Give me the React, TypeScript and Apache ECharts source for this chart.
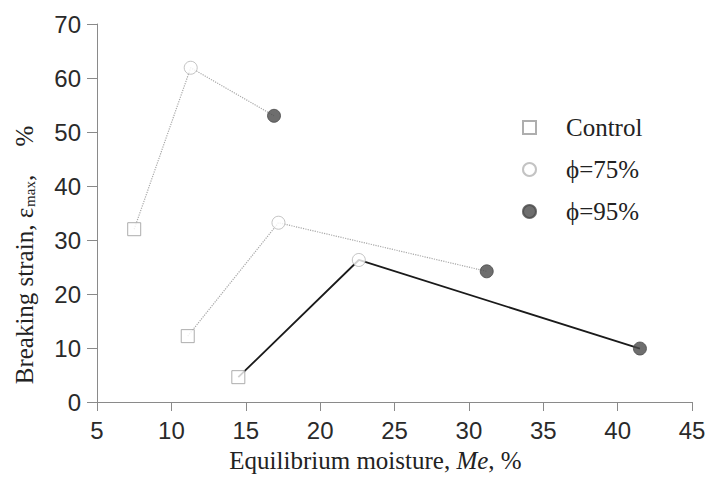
import React, { useEffect, useRef } from "react";
import * as echarts from "echarts";

// Equilibrium moisture (%) and breaking strain (%)
const controlX = [7.5, 11.1, 14.5];
const controlY = [32, 12.2, 4.6];
const rh75X = [11.3, 17.2, 22.6];
const rh75Y = [61.9, 33.2, 26.3];
const rh95X = [16.9, 31.2, 41.5];
const rh95Y = [53, 24.2, 9.9];
const legendNames = ["Control", "\u03d5=75%", "\u03d5=95%"];

const serif = "'Liberation Serif', 'DejaVu Serif', serif";
const sans = "'Liberation Sans', Arial, sans-serif";

export default function App() {
  const ref = useRef<HTMLDivElement>(null);
  useEffect(() => {
    if (!ref.current) return;
    const chart = echarts.init(ref.current, undefined, { renderer: "svg" });
    const pts = (xs: number[], ys: number[]) => xs.map((x, i) => [x, ys[i]]);
    const lineStyles = [
      { color: "#a8a8a8", width: 1.2, type: "dotted" },
      { color: "#a8a8a8", width: 1.2, type: "dotted" },
      { color: "#1a1a1a", width: 1.8, type: "solid" },
    ];
    const lineSeries = [0, 1, 2].map((i) => ({
      type: "line",
      data: [
        [controlX[i], controlY[i]],
        [rh75X[i], rh75Y[i]],
        [rh95X[i], rh95Y[i]],
      ],
      showSymbol: false,
      symbol: "none",
      lineStyle: lineStyles[i],
      silent: true,
      z: 1,
    }));
    const nameStyle = { fontFamily: serif, fontSize: 25, color: "#222" };
    chart.setOption({
      animation: false,
      backgroundColor: "#ffffff",
      grid: { left: 97, right: 17, top: 24, bottom: 83 },
      legend: {
        orient: "vertical",
        left: 522,
        top: 115,
        padding: 0,
        itemGap: 17,
        itemWidth: 13,
        itemHeight: 13,
        data: legendNames,
        textStyle: { fontFamily: serif, fontSize: 25, color: "#222", padding: [0, 0, 0, 25] },
      },
      xAxis: {
        type: "value",
        min: 5,
        max: 45,
        interval: 5,
        name: "{a|Equilibrium moisture, }{i|Me}{z|, %}",
        nameLocation: "middle",
        nameGap: 46,
        nameTextStyle: {
          rich: {
            a: nameStyle,
            i: { ...nameStyle, fontStyle: "italic" },
            z: { ...nameStyle, padding: [0, 38, 0, 0] },
          },
        },
        axisLine: { show: true, lineStyle: { color: "#8a8a8a", width: 1 } },
        axisTick: { show: true, inside: false, length: 9, lineStyle: { color: "#8a8a8a" } },
        axisLabel: { fontFamily: sans, fontSize: 24, color: "#2a2a2a", margin: 16 },
        splitLine: { show: false },
      },
      yAxis: {
        type: "value",
        min: 0,
        max: 70,
        interval: 10,
        name: "{a|Breaking strain, }{e|\u03b5}{s|max}{c|, }{p|%}",
        nameLocation: "middle",
        nameGap: 60,
        nameRotate: 90,
        nameTextStyle: {
          rich: {
            a: nameStyle,
            e: nameStyle,
            s: { fontFamily: serif, fontSize: 15, color: "#222", verticalAlign: "bottom", padding: [10, 0, 0, 1] },
            c: nameStyle,
            p: { ...nameStyle, padding: [0, 84, 0, 22] },
          },
        },
        axisLine: { show: true, lineStyle: { color: "#8a8a8a", width: 1 } },
        axisTick: { show: true, inside: false, length: 10, lineStyle: { color: "#8a8a8a" } },
        axisLabel: { fontFamily: sans, fontSize: 24, color: "#2a2a2a", margin: 16 },
        splitLine: { show: false },
      },
      series: [
        ...lineSeries,
        {
          name: legendNames[0],
          type: "scatter",
          data: pts(controlX, controlY),
          symbol: "rect",
          symbolSize: 13,
          itemStyle: { color: "#ffffff", borderColor: "#9a9a9a", borderWidth: 1 },
          z: 3,
        },
        {
          name: legendNames[1],
          type: "scatter",
          data: pts(rh75X, rh75Y),
          symbol: "circle",
          symbolSize: 13,
          itemStyle: { color: "#ffffff", borderColor: "#b4b4b4", borderWidth: 1 },
          z: 3,
        },
        {
          name: legendNames[2],
          type: "scatter",
          data: pts(rh95X, rh95Y),
          symbol: "circle",
          symbolSize: 13,
          itemStyle: { color: "#4a4a4a", borderColor: "#4a4a4a", borderWidth: 1 },
          z: 3,
        },
      ],
    });
    return () => chart.dispose();
  }, []);
  return (
    <div
      ref={ref}
      style={{ position: "fixed", left: 0, top: 0, width: 709, height: 485 }}
    />
  );
}
